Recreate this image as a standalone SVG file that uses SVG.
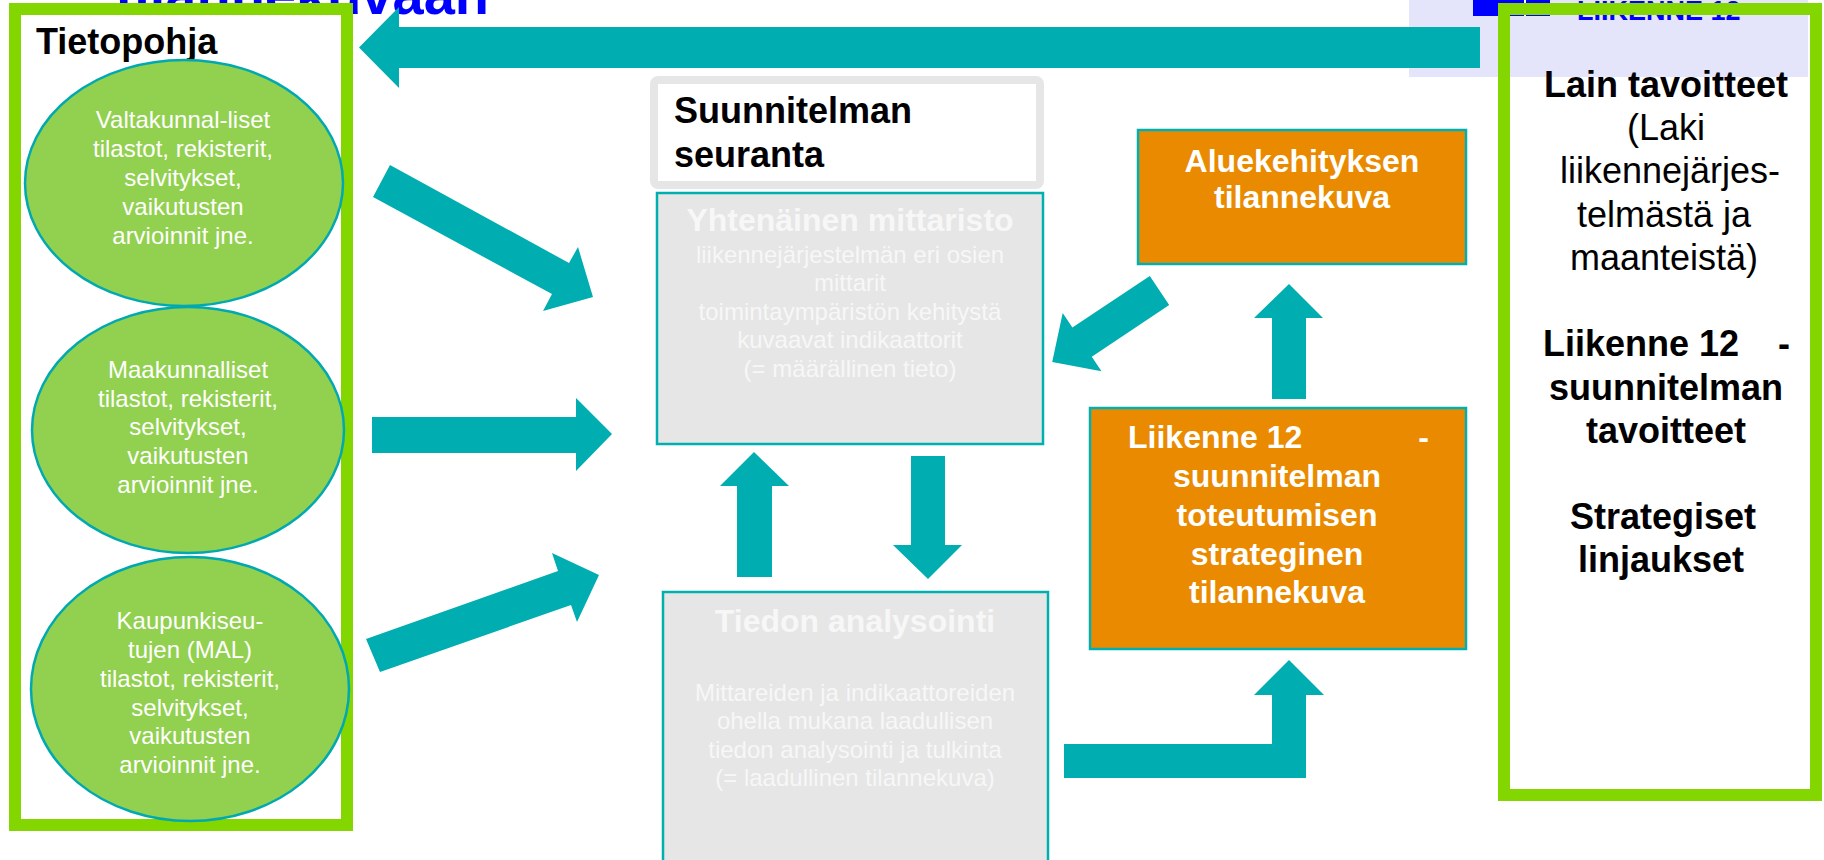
<svg xmlns="http://www.w3.org/2000/svg" width="1824" height="860" viewBox="0 0 1824 860">
<style>
text{font-family:"Liberation Sans",Arial,sans-serif}
.frame{fill:#ffffff;stroke:#84d600;stroke-width:12}
.ell{fill:#92d050;stroke:#00a9b0;stroke-width:2.5}
.et{fill:#ffffff;font-size:24px;text-anchor:middle}
.grey{fill:#e6e6e6;stroke:#00b0b0;stroke-width:2.5}
.gh{fill:#f7f7f7;font-size:32px;font-weight:bold;text-anchor:middle}
.gt{fill:#f7f7f7;font-size:24px;text-anchor:middle}
.orange{fill:#ea8a00;stroke:#00b0b0;stroke-width:2.5}
.ot{fill:#ffffff;font-size:32px;font-weight:bold}
.bk{fill:#000000;font-size:36px;font-weight:bold}
.rg{fill:#000000;font-size:36px}
.arr{fill:#00adb0}
</style>

<g id="title">
<text x="489" y="14" fill="#0000ff" font-size="56" font-weight="bold" text-anchor="end">tilannekuvaan</text>
</g>

<g id="header-right">
<rect x="1409" y="0" width="399" height="77" fill="#e4e4fb"/>
<rect x="1473" y="0" width="77" height="16" fill="#0000ff"/>
<line x1="1525" y1="0" x2="1525" y2="16" stroke="#ffffff" stroke-width="2"/>
<text x="1577" y="20" fill="#0000ff" font-size="27" font-weight="bold">LIIKENNE 12</text>
</g>

<g id="tietopohja">
<rect class="frame" x="15" y="9" width="332" height="816"/>
<text class="bk" x="36" y="54">Tietopohja</text>
</g>

<g id="valtakunnalliset">
<ellipse class="ell" cx="184" cy="183" rx="159" ry="123"/>
<text class="et" x="183" y="128">Valtakunnal-liset</text>
<text class="et" x="183" y="157">tilastot, rekisterit,</text>
<text class="et" x="183" y="186">selvitykset,</text>
<text class="et" x="183" y="215">vaikutusten</text>
<text class="et" x="183" y="244">arvioinnit jne.</text>
</g>

<g id="maakunnalliset">
<ellipse class="ell" cx="188" cy="430" rx="156" ry="123"/>
<text class="et" x="188" y="378">Maakunnalliset</text>
<text class="et" x="188" y="407">tilastot, rekisterit,</text>
<text class="et" x="188" y="435">selvitykset,</text>
<text class="et" x="188" y="464">vaikutusten</text>
<text class="et" x="188" y="493">arvioinnit jne.</text>
</g>

<g id="kaupunkiseudut">
<ellipse class="ell" cx="190" cy="689" rx="159" ry="132"/>
<text class="et" x="190" y="629">Kaupunkiseu-</text>
<text class="et" x="190" y="658">tujen (MAL)</text>
<text class="et" x="190" y="687">tilastot, rekisterit,</text>
<text class="et" x="190" y="716">selvitykset,</text>
<text class="et" x="190" y="744">vaikutusten</text>
<text class="et" x="190" y="773">arvioinnit jne.</text>
</g>

<g id="seuranta">
<rect x="654" y="80" width="386" height="105" rx="4" fill="#ffffff" stroke="#e6e6e6" stroke-width="8"/>
<text class="bk" x="674" y="123">Suunnitelman</text>
<text class="bk" x="674" y="167">seuranta</text>
</g>

<g id="mittaristo">
<rect class="grey" x="657" y="193" width="386" height="251"/>
<text class="gh" x="850" y="231">Yhtenäinen mittaristo</text>
<text class="gt" x="850" y="263">liikennejärjestelmän eri osien</text>
<text class="gt" x="850" y="291">mittarit</text>
<text class="gt" x="850" y="320">toimintaympäristön kehitystä</text>
<text class="gt" x="850" y="348">kuvaavat indikaattorit</text>
<text class="gt" x="850" y="377">(= määrällinen tieto)</text>
</g>

<g id="analysointi">
<rect class="grey" x="663" y="592" width="385" height="280"/>
<text class="gh" x="855" y="632">Tiedon analysointi</text>
<text class="gt" x="855" y="701">Mittareiden ja indikaattoreiden</text>
<text class="gt" x="855" y="729">ohella mukana laadullisen</text>
<text class="gt" x="855" y="758">tiedon analysointi ja tulkinta</text>
<text class="gt" x="855" y="786">(= laadullinen tilannekuva)</text>
</g>

<g id="aluekehitys">
<rect class="orange" x="1138" y="130" width="328" height="134"/>
<text class="ot" x="1302" y="172" text-anchor="middle">Aluekehityksen</text>
<text class="ot" x="1302" y="208" text-anchor="middle">tilannekuva</text>
</g>

<g id="liikenne12">
<rect class="orange" x="1090" y="408" width="376" height="241"/>
<text class="ot" x="1128" y="448">Liikenne 12</text>
<text class="ot" x="1429" y="448" text-anchor="end">-</text>
<text class="ot" x="1277" y="487" text-anchor="middle">suunnitelman</text>
<text class="ot" x="1277" y="526" text-anchor="middle">toteutumisen</text>
<text class="ot" x="1277" y="565" text-anchor="middle">strateginen</text>
<text class="ot" x="1277" y="603" text-anchor="middle">tilannekuva</text>
</g>

<g id="tavoitteet">
<rect x="1504" y="9" width="312" height="786" fill="none" stroke="#84d600" stroke-width="12"/>
<text class="bk" x="1666" y="97" text-anchor="middle">Lain tavoitteet</text>
<text class="rg" x="1666" y="140" text-anchor="middle">(Laki</text>
<text class="rg" x="1670" y="183" text-anchor="middle">liikennejärjes-</text>
<text class="rg" x="1664" y="227" text-anchor="middle">telmästä ja</text>
<text class="rg" x="1664" y="270" text-anchor="middle">maanteistä)</text>
<text class="bk" x="1543" y="356">Liikenne 12</text>
<text class="bk" x="1790" y="356" text-anchor="end">-</text>
<text class="bk" x="1666" y="400" text-anchor="middle">suunnitelman</text>
<text class="bk" x="1666" y="443" text-anchor="middle">tavoitteet</text>
<text class="bk" x="1663" y="529" text-anchor="middle">Strategiset</text>
<text class="bk" x="1661" y="572" text-anchor="middle">linjaukset</text>
</g>

<g id="connectors">
<polygon class="arr" points="1480,27 399,27 399,7 359,47.5 399,88 399,68 1480,68"/>
<polygon class="arr" points="390,165 569,263 578,247 593,297 543,311 552,294 373,197"/>
<polygon class="arr" points="372,417 576,417 576,398 612,434 576,471 576,453 372,453"/>
<polygon class="arr" points="366,639 558,571 552,553 599,575 577,622 571,605 380,672"/>
<polygon class="arr" points="737,577 737,486 720,486 754,452 789,486 772,486 772,577"/>
<polygon class="arr" points="911,456 945,456 945,545 962,545 928,579 893,545 911,545"/>
<polygon class="arr" points="1149.8,276 1169.2,305.1 1091.8,356.7 1101.5,371.2 1052.2,362.1 1062.7,313 1072.4,327.5"/>
<polygon class="arr" points="1272,399 1272,318 1254,318 1289,284 1323,318 1306,318 1306,399"/>
<polygon class="arr" points="1064,744 1272,744 1272,695 1254,695 1289,660 1324,695 1306,695 1306,778 1064,778"/>
</g>
</svg>
